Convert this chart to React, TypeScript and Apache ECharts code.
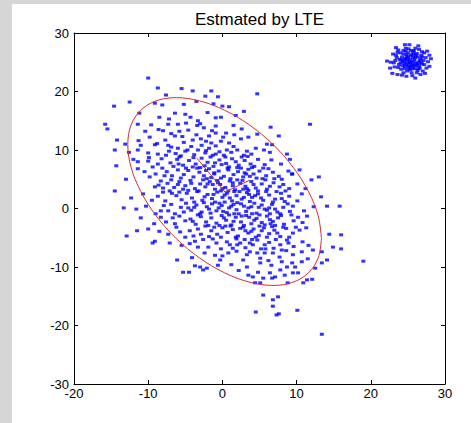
import React, { useEffect, useRef } from "react";
import * as echarts from "echarts";

const TITLE = "Estmated by LTE";
const X_MIN = -20;
const X_MAX = 30;
const Y_MIN = -30;
const Y_MAX = 30;
const TICK_STEP = 10;

// main cloud
const mainCloud: number[][] = [
  [-10, 22.3], [-8.7, 20.6],
  [-4, 20.1], [-1.5, 20.1], [-2.3, 19.2], [-7.6, 19.4], [4.7, 19.6], [-0.6, 19.1], [-5.5, 20.5],
  [-14.6, 17.5], [-12.5, 18.2], [-9.1, 18.0], [-8.1, 17.7], [0, 17.5], [0.9, 17.4], [-3.5, 18.3], [-5.2, 17.8], [-1.2, 17.9],
  [-6.4, 16.3], [-8.5, 15.6], [-3.3, 15.0], [-0.9, 15.5], [-0.2, 15.6], [-11.2, 16.3], [-5.0, 16.1], [-2.0, 16.4], [1.8, 15.9], [-7.2, 15.3], [-4.3, 15.6], [2.9, 16.6],
  [-15.8, 14.4], [-15.5, 13.6], [-11.4, 14.4], [-9.6, 14.3], [-7.3, 14.4], [-6.0, 14.4], [-4.9, 14.6], [-0.9, 14.1], [6.5, 13.9], [11.8, 14.4], [-5.8, 13.2], [-4.6, 13.4], [-2.5, 13.8], [-1.4, 13.3], [1.5, 14.2], [0.5, 12.9], [-8.6, 13.5], [-3.4, 14.2], [2.6, 13.6], [-10.4, 13.2],
  [-14.2, 11.7], [-13.1, 11.0], [-7.7, 11.7], [-6.4, 12.4], [-4, 11.7], [-2.9, 11.9], [-2.2, 11.5], [-1.5, 11.2], [7.6, 12.4], [4.7, 12.7], [6.0, 11.0], [6.7, 10.9], [1.6, 12.6], [2.5, 11.9], [-0.2, 11.5], [0.9, 11.2], [-0.9, 12.9], [-9.8, 12.2], [-11.3, 11.6], [-5.2, 11.3], [-8.8, 11.1], [3.5, 12.2], [-3.5, 12.6], [0.1, 12.2], [-6.9, 12.8],
  [-14.5, 10.0], [-11.4, 10.0], [-10.0, 9.5], [-9.1, 10.9], [-6.9, 10.5], [-6.0, 10.3], [-5.0, 9.8], [-3.3, 10.0], [-2.3, 9.5], [-1.3, 9.1], [-0.9, 10.7], [-7.6, 9.1], [-8.7, 9.3], [0.6, 10.0], [2.0, 10.0], [3.3, 9.8], [0.2, 9.1], [2.9, 9.1], [4.5, 10.3], [5.6, 10.0], [8.7, 9.3], [-4.2, 10.6], [-12.6, 9.6], [-1.8, 10.3], [1.2, 9.6], [-3.8, 9.2], [-5.6, 9.0], [3.9, 9.3], [6.4, 9.6], [-0.4, 9.7], [1.5, 10.6], [-2.8, 10.8], [-7.2, 9.8], [-11.0, 10.8],
  [-14.3, 7.3], [-11.4, 8.0], [-10.0, 8.1], [-9.4, 7.1], [-8.2, 8.5], [-7.0, 7.8], [-6.1, 8.4], [-5.3, 7.4], [-4.5, 8.2], [-3.6, 7.6], [-2.8, 8.6], [-2.0, 7.9], [-1.2, 7.2], [-0.4, 8.3], [0.5, 7.7], [1.3, 8.5], [2.2, 7.4], [3.0, 8.2], [3.8, 7.6], [4.8, 8.4], [5.7, 7.5], [6.6, 8.3], [7.9, 7.6], [9.1, 8.4], [-4.0, 7.1], [-1.6, 8.8], [0.9, 7.1], [2.6, 8.8], [-6.6, 7.2], [-8.7, 7.6], [4.3, 7.2], [-2.4, 7.3], [-0.1, 7.5], [1.8, 8.0], [-5.8, 8.8], [3.4, 8.9],
  [-11.4, 6.8], [-9.8, 5.4], [-9.0, 5.9], [-7.5, 6.3], [-6.8, 5.6], [-6.0, 6.6], [-5.2, 5.8], [-4.6, 6.5], [-3.9, 5.4], [-3.1, 6.2], [-2.5, 5.6], [-1.8, 6.8], [-1.1, 5.9], [-0.5, 6.4], [0.2, 5.5], [0.8, 6.6], [1.5, 5.8], [2.1, 6.3], [2.8, 5.4], [3.5, 6.7], [4.2, 5.9], [5.0, 6.4], [5.9, 5.6], [6.8, 6.2], [7.6, 5.5], [8.9, 6.4], [9.4, 5.9], [-8.1, 6.9], [-3.4, 6.9], [-0.2, 5.2], [1.1, 5.1], [2.5, 6.9], [4.6, 5.2], [6.2, 6.8], [-5.6, 5.2], [-1.5, 5.3], [3.2, 5.9], [10.4, 6.6], [-2.2, 6.5],
  [-13.0, 5.0], [-8.3, 4.7], [-9.1, 3.7], [-7.4, 4.3], [-6.5, 3.6], [-5.8, 4.6], [-5.0, 3.9], [-4.3, 4.8], [-3.7, 3.4], [-3.0, 4.2], [-2.3, 3.7], [-1.7, 4.6], [-1.0, 3.3], [-0.3, 4.1], [0.4, 3.6], [1.0, 4.7], [1.7, 3.2], [2.4, 4.3], [3.1, 3.8], [3.9, 4.6], [4.5, 3.5], [5.3, 4.2], [6.0, 3.3], [6.9, 4.4], [7.7, 3.7], [8.0, 5.0], [10.1, 4.2], [12.0, 4.9], [9.0, 3.4], [-2.6, 4.9], [-0.7, 4.8], [0.8, 3.0], [2.0, 4.9], [3.5, 3.1], [5.8, 4.9], [-4.6, 3.1], [-6.0, 4.1], [-1.3, 4.1], [4.2, 4.1], [0.0, 3.4], [2.8, 3.3], [-8.0, 3.5], [11.2, 3.4], [13.0, 5.4], [9.4, 5.9],
  [-14.5, 3.0], [-12.3, 1.8], [-10.7, 2.5], [-8.0, 2.8], [-8.7, 2.1], [-7.7, 1.3], [-7.1, 3.0], [-6.2, 2.2], [-5.5, 1.5], [-4.8, 2.6], [-4.1, 1.8], [-3.4, 2.9], [-2.7, 1.4], [-2.0, 2.4], [-1.4, 1.7], [-0.7, 2.8], [0.0, 1.9], [0.6, 2.6], [1.3, 1.3], [1.9, 2.2], [2.6, 1.6], [3.3, 2.7], [4.0, 1.9], [4.8, 2.5], [5.5, 1.4], [6.3, 2.3], [7.1, 1.6], [7.9, 2.6], [9.0, 2.1], [10.1, 1.3], [10.7, 2.5], [13.3, 2.0], [-3.8, 1.1], [-1.0, 1.1], [1.6, 2.9], [3.7, 1.2], [5.9, 2.9], [8.4, 1.2], [-5.8, 2.8], [0.3, 1.1], [2.3, 2.9], [6.8, 1.1], [-2.4, 2.0], [4.4, 2.2],
  [-13.3, 0.1], [-11.6, -0.1], [-10.3, 0.4], [-9.0, -0.9], [-8.3, -0.4], [-7.3, -0.4], [-6.4, -0.9], [-6.9, 0.7], [-5.6, 0.2], [-4.9, 0.9], [-4.2, -0.3], [-3.5, 0.6], [-2.8, -0.6], [-2.1, 0.3], [-1.4, 0.8], [-0.8, -0.4], [-0.1, 0.5], [0.6, -0.7], [1.2, 0.4], [1.9, -0.2], [2.5, 0.8], [3.2, -0.5], [3.9, 0.3], [4.6, -0.8], [5.3, 0.6], [6.0, -0.3], [6.7, 0.7], [7.4, -0.6], [8.2, 0.2], [9.1, -0.5], [11.0, -0.4], [12.3, 0.3], [14.1, 0.4], [15.8, 0.4], [-3.0, -0.9], [-0.4, 0.9], [2.2, -0.9], [4.3, 0.9], [6.4, -0.9], [8.8, 0.8], [0.9, 0.1], [-1.8, -0.1], [3.5, 0.1], [5.7, -0.1], [-4.6, 0.1], [7.8, -0.9],
  [-9.2, -2.6], [-7.6, -2.3], [-6.4, -2.6], [-5.0, -2.1], [-11.0, -1.6], [-8.3, -1.5], [-5.8, -1.3], [-4.3, -1.8], [-3.6, -2.7], [-2.9, -1.4], [-2.2, -2.3], [-1.5, -1.6], [-0.8, -2.5], [-0.1, -1.2], [0.5, -2.0], [1.2, -2.8], [1.8, -1.5], [2.5, -2.3], [3.2, -1.2], [3.9, -2.6], [4.6, -1.7], [5.3, -2.4], [6.0, -1.3], [6.8, -2.2], [7.5, -1.6], [8.3, -2.7], [9.6, -2.1], [11.4, -1.3], [-1.9, -2.9], [0.9, -1.1], [2.9, -2.9], [5.0, -1.1], [7.1, -2.9], [10.2, -1.5], [-3.3, -1.1], [4.3, -2.0], [-0.4, -2.9], [6.4, -1.9],
  [-10.0, -3.5], [-11.5, -3.8], [-12.9, -4.7], [-7.3, -4.4], [-5.7, -4.0], [-5.0, -4.9], [-4.4, -3.8], [-3.3, -3.5], [-2.3, -3.0], [-1.5, -3.8], [-0.7, -4.4], [0.0, -3.3], [0.7, -4.1], [1.4, -3.6], [2.1, -4.7], [2.8, -3.2], [3.5, -4.2], [4.2, -3.5], [4.9, -4.6], [5.6, -3.3], [6.3, -4.3], [7.0, -3.7], [7.8, -4.8], [8.6, -3.4], [9.5, -4.2], [11.3, -3.3], [14.4, -4.4], [16.0, -4.5], [-8.5, -3.9], [-3.9, -4.7], [-1.1, -3.2], [1.8, -4.9], [4.5, -4.9], [6.7, -3.1], [9.0, -4.9], [10.4, -3.7], [-6.2, -3.2], [3.1, -3.8],
  [-9.4, -5.9], [-7.1, -5.9], [-9.1, -5.6], [-3.7, -5.6], [-3.3, -6.6], [-1.9, -6.6], [0.6, -5.7], [1.0, -6.2], [1.4, -6.8], [2.4, -5.9], [3.7, -5.9], [4.1, -6.2], [5.7, -6.2], [7.8, -6.2], [-5.5, -6.3], [-2.6, -5.3], [-0.8, -5.9], [-0.2, -6.9], [1.9, -5.2], [3.1, -6.7], [4.7, -5.4], [6.3, -5.8], [6.9, -6.8], [8.7, -5.4], [9.6, -6.5], [10.8, -5.7], [14.9, -6.6], [16.0, -6.9], [-4.4, -6.0], [-1.3, -5.2], [5.2, -6.9], [11.6, -6.3],
  [-6.1, -8.8], [-1.0, -8.0], [0.0, -8.1], [0.8, -7.6], [2.8, -8.8], [4.7, -7.6], [3.7, -7.4], [5.7, -7.6], [6.8, -7.6], [3.3, -7.9], [5.1, -8.5], [-0.3, -8.8], [9.5, -7.9], [10.7, -7.4], [12.2, -7.1], [13.4, -7.4], [14.1, -8.8], [1.9, -7.3], [7.7, -8.3], [8.6, -7.2], [-2.4, -7.6], [-4.1, -8.4], [11.5, -8.6], [6.2, -8.9],
  [-5.3, -10.9], [-4.5, -10.9], [-3.7, -9.8], [-3.0, -10.0], [-2.6, -10.5], [-2.1, -10.2], [-0.6, -9.7], [3.3, -10.0], [4.8, -10.9], [5.1, -9.3], [8.0, -9.1], [9.4, -9.3], [9.8, -10.0], [10.7, -9.1], [7.8, -10.5], [8.7, -10.0], [13.4, -9.3], [12.5, -10.2], [10.2, -11.0], [19.0, -9.0], [1.2, -9.6], [2.2, -10.6], [6.6, -9.7],
  [3.5, -11.4], [4.1, -11.7], [7.1, -11.7], [6.7, -11.9], [5.5, -11.9], [5.1, -12.7], [4.4, -12.7], [8.8, -12.7], [8.4, -11.4], [11.4, -12.2], [12.1, -12.1], [10.9, -12.7], [6.4, -11.0], [9.5, -11.0],
  [5.5, -14.8], [6.8, -15.6], [7.5, -15.1], [6.8, -16.7], [4.5, -17.7], [7.6, -18.0], [7.3, -18.2], [10.1, -17.4], [13.4, -21.5],
  [-2.1, 5.1], [-0.6, 4.4], [1.4, 4.4], [2.7, 4.8], [3.7, 5.5], [5.4, 5.1], [-1.2, 2.4], [0.3, 2.3], [1.0, 1.8], [2.9, 1.9], [3.6, 2.4], [5.2, 1.8], [-0.5, 0.1], [1.5, 0.7], [2.9, 0.4], [4.9, 0.2], [6.3, 0.1], [0.2, -1.6], [1.5, -2.2], [3.6, -1.5], [5.7, -2.8], [7.9, -1.2], [1.1, -3.0], [3.9, -3.9], [5.3, -3.8], [7.4, -4.2], [2.4, -3.4], [8.2, -3.2], [-3.2, 3.0], [-4.2, 4.3], [-2.0, 4.2], [-5.3, 3.3], [-6.9, 4.9], [-4.9, 6.9], [-3.0, 7.0], [-1.0, 7.8], [-7.8, 5.6], [-5.9, 7.6], [-3.9, 8.7], [-2.2, 9.9], [-4.7, 10.0], [-6.3, 9.4], [-1.1, 6.1], [0.7, 6.9], [-0.9, 9.3], [0.4, 8.8], [2.0, 7.0], [3.0, 6.1], [4.0, 7.0], [5.5, 6.9], [7.0, 5.1], [8.2, 4.1], [6.4, 3.8], [7.3, 2.9], [8.5, 3.0], [9.5, 0.4], [7.1, -0.1], [8.0, 1.7], [6.0, -4.9], [4.0, -5.3], [2.0, -6.2], [3.0, -5.3], [5.8, -6.9], [7.2, -5.3], [8.0, -7.1], [-2.9, -4.4], [-1.8, -4.8], [-0.2, -4.9], [0.4, -3.0], [-4.0, -2.2], [-5.2, -0.6], [-6.7, -1.6], [-3.8, 0.2], [-2.5, 1.0], [-0.2, 3.0], [1.4, 3.9], [3.3, 3.4], [4.8, 3.0], [-1.6, -0.8], [1.6, -0.9], [4.0, -0.9], [2.0, 1.0], [2.6, -1.3], [0.1, -0.5], [5.0, -3.0], [6.5, -2.6], [9.3, -1.1], [9.9, -3.2], [10.8, -2.4], [8.9, -5.9], [-7.9, 0.5], [-9.5, 1.4], [-6.8, 2.6], [-8.6, 4.0], [-10.5, 6.3], [-9.9, 8.7], [-12.0, 8.4], [-7.3, 10.8], [-5.4, 12.3], [-3.0, 14.5], [-1.8, 12.4], [-8.0, 13.3],
];

// small tight cluster in the upper-right corner
const cornerCluster: number[][] = [
  [22.2, 25.2], [22.6, 24.0], [23.0, 26.4], [23.4, 27.5], [24.6, 28.0], [26.4, 27.8], [27.6, 26.9], [28.1, 25.6], [27.9, 24.3], [27.3, 23.1], [26.0, 22.3], [24.8, 22.6], [23.6, 22.9], [22.9, 23.1],
  [23.5, 25.8], [23.8, 24.6], [24.0, 26.6], [24.1, 23.8], [24.3, 25.1], [24.4, 27.0], [24.6, 24.3], [24.7, 25.7], [24.8, 26.3], [24.9, 23.5], [25.0, 24.9], [25.1, 27.3], [25.2, 24.1], [25.3, 25.5], [25.4, 26.1], [25.5, 23.2], [25.6, 24.6], [25.7, 26.8], [25.8, 25.2], [25.9, 23.9], [26.0, 25.9], [26.1, 24.4], [26.2, 26.5], [26.3, 23.6], [26.4, 25.0], [26.6, 24.0], [26.7, 25.6], [26.8, 26.2], [26.9, 24.7], [27.0, 23.5], [27.1, 25.3], [27.2, 26.6], [23.2, 24.2], [23.3, 25.3], [23.7, 27.1], [24.2, 22.8], [26.5, 27.2], [27.5, 24.0], [27.4, 25.8], [25.0, 26.6], [24.5, 24.8], [25.5, 25.0], [25.9, 24.5], [24.9, 25.4], [25.7, 25.8], [26.3, 24.7], [24.2, 25.9], [25.3, 23.7], [26.6, 25.3], [24.6, 23.9], [25.8, 26.4], [25.1, 24.4], [24.0, 24.9], [26.9, 25.9], [25.4, 27.0], [23.9, 25.5], [26.2, 23.2], [24.7, 26.9], [25.6, 22.7], [27.7, 25.1], [23.4, 26.2], [26.0, 27.4], [27.9, 26.2], [22.7, 25.0], [24.4, 23.2], [23.1, 24.9], [26.7, 22.9], [25.2, 28.0],
  [24.5, 25.5], [25.0, 25.8], [25.5, 26.3], [26.0, 24.8], [25.3, 24.9], [24.8, 24.6], [25.9, 25.5], [26.3, 25.9], [24.3, 24.4], [25.6, 23.9], [24.9, 26.0], [26.5, 24.4], [25.2, 25.2], [25.7, 24.3], [24.6, 25.2], [26.1, 26.2], [25.4, 24.4], [24.1, 25.4], [26.8, 25.0], [25.1, 23.9], [25.8, 27.0], [24.4, 26.4], [26.4, 23.9], [23.7, 24.1], [27.2, 24.6], [24.7, 27.4], [26.9, 26.8], [23.6, 26.7],
];

// estimated ellipse outline
const ellipseOutline: number[][] = [
  [13.35, -5.13], [12.91, -8.45], [11.6, -11.0], [9.53, -12.6], [6.83, -13.15], [3.68, -12.6], [0.3, -11.0], [-3.08, -8.45],
  [-6.23, -5.13], [-8.93, -1.25], [-11.0, 2.9], [-12.31, 7.05], [-12.75, 10.93], [-12.31, 14.25], [-11.0, 16.8], [-8.93, 18.4],
  [-6.23, 18.95], [-3.08, 18.4], [0.3, 16.8], [3.68, 14.25], [6.83, 10.93], [9.53, 7.05], [11.6, 2.9], [12.91, -1.25], [13.35, -5.13],
];

// principal axis segments drawn from the centre
const majorAxisSegment: number[][] = [[0.35, 2.82], [-3.46, 8.63]];
const minorAxisSegment: number[][] = [[0.35, 2.82], [3.72, 4.87]];

const FONT = "'Liberation Sans', Arial, sans-serif";

function makeAxis(position: string, showLabels: boolean, min: number, max: number, margin: number) {
  return {
    type: "value",
    position,
    min,
    max,
    interval: TICK_STEP,
    axisLine: { show: true, onZero: false, lineStyle: { color: "#000", width: 1 } },
    axisTick: { show: true, inside: true, length: 4, lineStyle: { color: "#000", width: 1 } },
    axisLabel: { show: showLabels, color: "#000", fontSize: 13, fontFamily: FONT, margin },
    splitLine: { show: false },
  };
}

export default function App() {
  const ref = useRef<HTMLDivElement>(null);
  useEffect(() => {
    if (!ref.current) return;
    const chart = echarts.init(ref.current, null, { renderer: "svg" });
    chart.setOption({
      animation: false,
      backgroundColor: "#ffffff",
      grid: { left: 74, top: 33, width: 371, height: 351, containLabel: false },
      xAxis: [
        makeAxis("bottom", true, X_MIN, X_MAX, 3),
        makeAxis("top", false, X_MIN, X_MAX, 3),
      ],
      yAxis: [
        makeAxis("left", true, Y_MIN, Y_MAX, 5),
        makeAxis("right", false, Y_MIN, Y_MAX, 5),
      ],
      graphic: [
        { type: "rect", left: 0, top: 0, shape: { width: 12, height: 423 }, style: { fill: "#d6d6d6" }, silent: true },
        { type: "rect", left: 0, top: 0, shape: { width: 471, height: 4 }, style: { fill: "#d6d6d6" }, silent: true },
        {
          type: "text",
          x: 259.5,
          y: 19,
          style: { text: TITLE, fill: "#000", fontSize: 17, fontFamily: FONT, textAlign: "center", textVerticalAlign: "middle" },
        },
      ],
      series: [
        {
          type: "scatter",
          data: mainCloud,
          symbol: "rect",
          symbolSize: [4, 3],
          itemStyle: { color: "#0000ff" },
          silent: true,
        },
        {
          type: "scatter",
          data: cornerCluster,
          symbol: "rect",
          symbolSize: [4, 3],
          itemStyle: { color: "#0000ff" },
          silent: true,
        },
        {
          type: "line",
          data: ellipseOutline,
          smooth: 0.35,
          showSymbol: false,
          lineStyle: { color: "#d03030", width: 1 },
          silent: true,
        },
        {
          type: "line",
          data: majorAxisSegment,
          showSymbol: false,
          lineStyle: { color: "#d03030", width: 1 },
          silent: true,
        },
        {
          type: "line",
          data: minorAxisSegment,
          showSymbol: false,
          lineStyle: { color: "#d03030", width: 1 },
          silent: true,
        },
      ],
    });
    return () => chart.dispose();
  }, []);
  return <div ref={ref} style={{ position: "absolute", left: 0, top: 0, width: 471, height: 423 }} />;
}
